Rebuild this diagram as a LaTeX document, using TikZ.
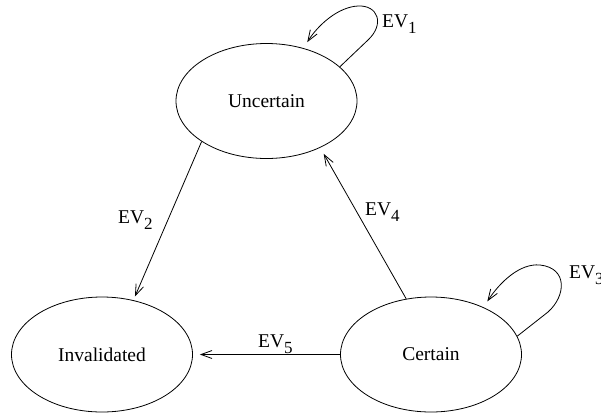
\documentclass[tikz,border=0pt]{standalone}
\usepackage{fontspec}
\setmainfont{Liberation Serif}
\usetikzlibrary{shapes.geometric,arrows.meta}

% event label with a lowered index
\newcommand\evlabel[1]{EV\raisebox{-6pt}{\fontsize{17}{17}\selectfont #1}}

\begin{document}
\begin{tikzpicture}[x=1pt,y=-1pt,
  every node/.style={font=\fontsize{19.5}{23}\selectfont},
  state/.style={ellipse,draw,line width=0.8pt,minimum width=181pt,minimum height=115pt,inner sep=0pt},
  trans/.style={line width=0.8pt,-{Straight Barb[length=11pt,width=8pt]}},
  evtext/.style={anchor=base west,inner sep=0pt}]

  \fill[white,use as bounding box] (0,0) rectangle (601,416);

  % states
  \node[state] (U) at (266.5,101) {Uncertain};
  \node[state] (I) at (102,354.5) {Invalidated};
  \node[state] (C) at (431,354.5) {Certain};

  % transitions
  \draw[trans,shorten >=4pt] (U.-148.3) -- (I.60.6);
  \draw[trans,shorten >=7pt] (C.114.3) -- (U.-41);
  \draw[trans,shorten >=7pt] (C.180) -- (I.0);
  \draw[trans,shorten >=7pt] (U.25.5) -- (368,40)
     .. controls (385,24) and (378,5) .. (358,6)
     .. controls (338,7) and (318,25) .. (U.55);
  \draw[trans,shorten >=7pt] (C.12) -- (548,312)
     .. controls (566,296) and (568,268) .. (540,265)
     .. controls (520,263) and (500,282) .. (C.42);

  % transition labels
  \node[evtext] (l1) at (382,27) {\evlabel{1}};
  \node[evtext] (l2) at (118,223) {\evlabel{2}};
  \node[evtext] (l3) at (569,278) {\evlabel{3}};
  \node[evtext] (l4) at (365,215) {\evlabel{4}};
  \node[evtext] (l5) at (258,347) {\evlabel{5}};
\end{tikzpicture}
\end{document}
